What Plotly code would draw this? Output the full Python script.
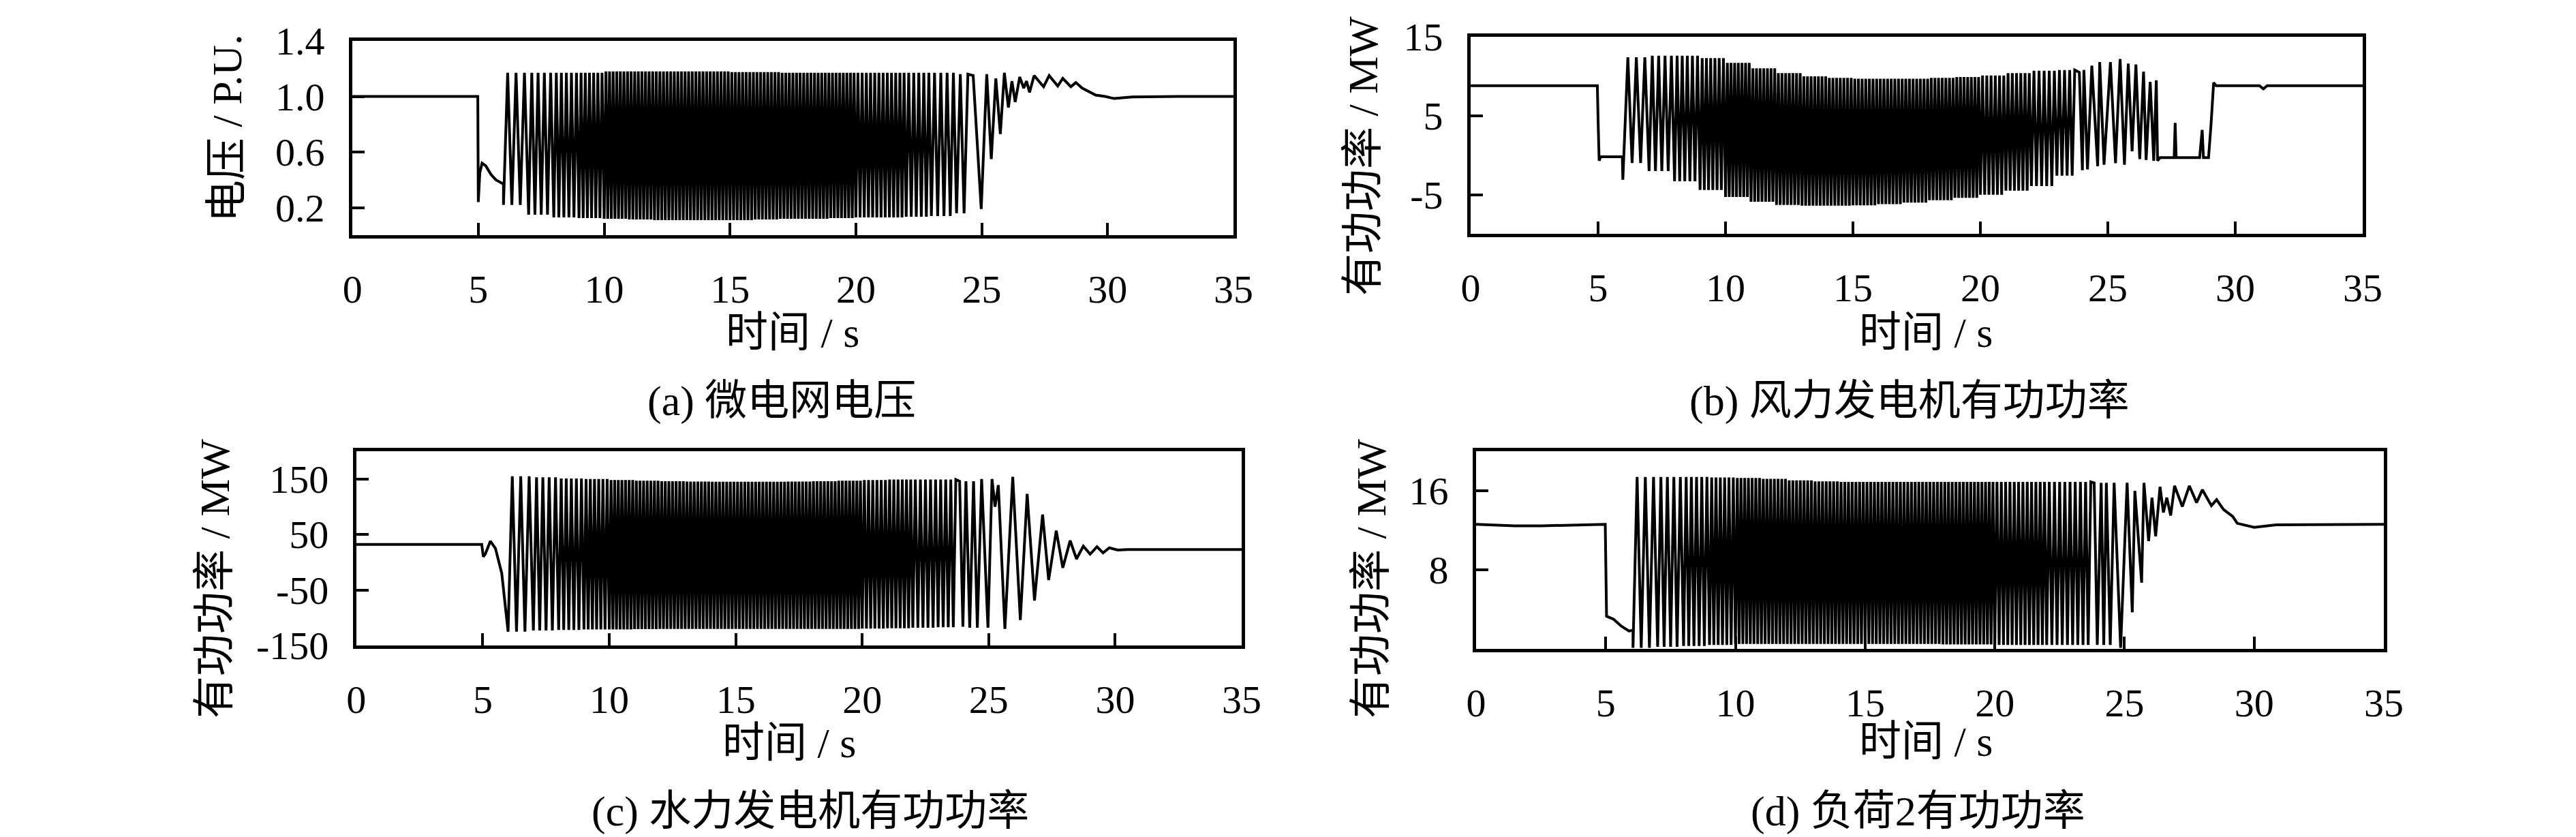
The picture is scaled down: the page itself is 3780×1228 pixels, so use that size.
import plotly.graph_objects as go

# time axis (s)
x_ticks = [0, 5, 10, 15, 20, 25, 30, 35]

# cycles per one-second block during the sustained oscillation (6 s .. 24 s)
osc_cycles = [3, 4, 5, 6, 7, 7, 7, 7, 7, 7, 7, 7, 7, 7, 6, 6, 5, 4]

# (a) 微电网电压, P.U.
a_pre_t = [0, 4.98, 5.0, 5.06, 5.15, 5.3, 5.5, 5.7, 5.9, 6.0]
a_pre_v = [1.0, 1.0, 0.24, 0.45, 0.52, 0.5, 0.44, 0.4, 0.38, 0.37]
a_edges = [6, 7, 8, 9, 10, 11, 12, 13, 14, 15, 16, 17, 18, 19, 20, 21, 22, 23, 24, 24.6]
a_cycles = osc_cycles + [2]
a_hi = [1.17, 1.17, 1.17, 1.17, 1.18, 1.18, 1.18, 1.18, 1.18, 1.175, 1.175, 1.17, 1.17,
        1.17, 1.17, 1.17, 1.17, 1.17, 1.16]
a_lo = [0.22, 0.15, 0.13, 0.125, 0.12, 0.115, 0.11, 0.11, 0.11, 0.11, 0.115, 0.12, 0.12,
        0.125, 0.13, 0.13, 0.135, 0.14, 0.16]
a_post_t = [24.66, 24.98, 25.2, 25.38, 25.56, 25.74, 25.9, 26.06, 26.2, 26.33, 26.51, 26.67,
            26.78, 26.9, 27.08, 27.46, 27.68, 28.02, 28.22, 28.54, 28.74, 28.99, 29.53,
            29.9, 30.26, 30.98, 32.8, 35]
a_post_v = [1.15, 0.19, 1.16, 0.55, 1.13, 0.73, 1.17, 0.92, 1.11, 0.96, 1.14, 1.06,
            1.11, 1.03, 1.15, 1.07, 1.15, 1.075, 1.13, 1.07, 1.10, 1.06, 1.01,
            1.0, 0.985, 0.997, 1.0, 1.0]

# (b) 风力发电机有功功率, MW
b_pre_t = [0, 4.97, 5.0, 5.04, 5.1, 5.95, 5.97]
b_pre_v = [8.8, 8.8, 4.3, -0.7, -0.2, -0.2, -3.1]
b_edges = [6, 7, 8, 9, 10, 11, 12, 13, 14, 15, 16, 17, 18, 19, 20, 21, 22, 23, 23.8]
b_cycles = osc_cycles
b_hi = [12.4, 12.6, 12.6, 12.3, 11.7, 11.0, 10.4, 10.0, 9.8, 9.7, 9.7, 9.7, 9.8, 9.9,
        10.1, 10.4, 10.7, 10.8]
b_lo = [-1.0, -2.0, -3.3, -4.4, -5.3, -5.9, -6.3, -6.4, -6.4, -6.35, -6.2, -6.0, -5.7,
        -5.4, -5.0, -4.5, -3.9, -2.6]
b_post_t = [23.88, 24.0, 24.06, 24.2, 24.37, 24.6, 24.68, 24.85, 25.1, 25.3, 25.48, 25.65,
            25.8, 25.95, 26.1, 26.25, 26.4, 26.5, 26.66, 26.8, 26.9, 26.95, 27.05, 27.6,
            27.64, 27.68, 28.6, 28.7, 28.75, 28.95, 29.05, 29.15, 29.25, 30.95, 31.1,
            31.25, 35]
b_post_v = [10.5, -1.9, 10.8, -1.8, 11.35, -1.4, 11.8, -1.2, 11.8, -1.0, 12.2, -1.2,
            11.6, 0.5, 11.5, -0.5, 10.6, -0.6, 9.3, -0.7, 9.5, -0.7, -0.3, -0.3,
            4.1, -0.3, -0.3, 3.2, -0.3, -0.3, 4.0, 9.2, 8.8, 8.8, 8.4,
            8.8, 8.8]

# (c) 水力发电机有功功率, MW
c_pre_t = [0, 4.96, 5.02, 5.1, 5.3, 5.5, 5.75, 6.0]
c_pre_v = [32, 32, 10, 15, 38, 25, -20, -125]
c_edges = [6, 7, 8, 9, 10, 11, 12, 13, 14, 15, 16, 17, 18, 19, 20, 21, 22, 23, 23.8]
c_cycles = osc_cycles
c_hi = [155, 153, 151, 150, 148, 147, 146, 145.5, 145, 145, 145, 145.5, 146, 147, 148,
        149, 149, 149]
c_lo = [-125, -123, -122, -121, -121, -120.5, -120, -120, -120, -120, -120, -120, -120,
        -120, -119.5, -119, -118, -117]
c_post_t = [23.85, 23.98, 24.1, 24.25, 24.4, 24.55, 24.72, 24.97, 25.13, 25.25, 25.38,
            25.64, 25.95, 26.25, 26.52, 26.81, 27.13, 27.37, 27.67, 27.93, 28.22, 28.47,
            28.74, 29.01, 29.28, 29.52, 29.77, 30.1, 30.5, 35]
c_post_v = [146, -116, 146, -118, 146, -118, 150, -118, 150, 100, 139,
            -120, 154, -104, 123, -69, 86, -32, 57, -10, 39, 6,
            29, 14.5, 28, 17, 26, 22, 23, 23]

# (d) 负荷2有功功率, MW
d_pre_t = [0, 1.5, 2.5, 4.98, 5.03, 5.3, 5.6, 5.9, 6.05]
d_pre_v = [12.6, 12.45, 12.45, 12.6, 3.3, 3.0, 2.3, 1.8, 1.9]
d_edges = [6.05, 7, 8, 9, 10, 11, 12, 13, 14, 15, 16, 17, 18, 19, 20, 21, 22, 23, 23.8]
d_cycles = osc_cycles
d_hi = [17.4, 17.4, 17.4, 17.35, 17.3, 17.2, 17.05, 16.95, 16.9, 16.9, 16.9, 16.9, 16.9,
        16.9, 16.9, 16.9, 16.9, 16.9]
d_lo = [0.1, 0.2, 0.3, 0.4, 0.5, 0.5, 0.5, 0.5, 0.5, 0.5, 0.5, 0.5, 0.45, 0.45, 0.4,
        0.4, 0.4, 0.4]
d_post_t = [23.83, 23.95, 24.1, 24.2, 24.3, 24.45, 24.6, 24.85, 25.1, 25.3, 25.4, 25.66,
            25.75, 25.93, 26.06, 26.2, 26.37, 26.5, 26.63, 26.78, 26.93, 27.23, 27.5,
            27.78, 28.0, 28.35, 28.55, 28.82, 29.17, 29.35, 29.7, 30.0, 30.5, 30.85, 35]
d_post_v = [16.8, 0.4, 16.8, 0.4, 16.8, 0.4, 16.8, 0.1, 16.8, 3.7, 16.0, 6.7,
            16.8, 10.9, 15.3, 11.4, 16.4, 13.8, 15.3, 13.5, 16.5, 14.4, 16.5,
            14.8, 16.1, 14.5, 15.1, 14.1, 13.4, 12.7, 12.5, 12.3, 12.45, 12.55, 12.6]


def zigzag(edges, cycles, hi, lo):
    # one trough + one peak per cycle inside each block
    t, v = [], []
    for k in range(len(cycles)):
        step = (edges[k + 1] - edges[k]) / cycles[k]
        for c in range(cycles[k]):
            t += [edges[k] + c * step, edges[k] + (c + 0.5) * step]
            v += [lo[k], hi[k]]
    return t, v


SERIF = "Liberation Serif, Noto Sans CJK SC"
panels = [
    # pre, blocks, post, y range, y ticks, x domain, y domain
    (a_pre_t, a_pre_v, a_edges, a_cycles, a_hi, a_lo, a_post_t, a_post_v,
     [0, 1.4], [0.2, 0.6, 1.0, 1.4], ["0.2", "0.6", "1.0", "1.4"], [0.1347, 0.4767], [0.7252, 0.9577]),
    (b_pre_t, b_pre_v, b_edges, b_cycles, b_hi, b_lo, b_post_t, b_post_v,
     [-10, 15], [-5, 5, 15], ["-5", "5", "15"], [0.5688, 0.9151], [0.7268, 0.9625]),
    (c_pre_t, c_pre_v, c_edges, c_cycles, c_hi, c_lo, c_post_t, c_post_v,
     [-150, 200], [-150, -50, 50, 150], ["-150", "-50", "50", "150"], [0.1362, 0.4799], [0.2353, 0.4674]),
    (d_pre_t, d_pre_v, d_edges, d_cycles, d_hi, d_lo, d_post_t, d_post_v,
     [0, 20], [8, 16], ["8", "16"], [0.5709, 0.9233], [0.2313, 0.4674]),
]

fig = go.Figure()
layout = {}
for i, p in enumerate(panels):
    pre_t, pre_v, edges, cyc, hi, lo, post_t, post_v, yr, yt, ytt, xd, yd = p
    zt, zv = zigzag(edges, cyc, hi, lo)
    n = "" if i == 0 else str(i + 1)
    fig.add_trace(go.Scatter(x=pre_t + zt + post_t, y=pre_v + zv + post_v, mode="lines",
                             line=dict(color="black", width=4),
                             xaxis="x" + n, yaxis="y" + n, showlegend=False))
    common = dict(showline=True, mirror=True, linewidth=5, linecolor="black",
                  ticks="inside", ticklen=18, tickwidth=4, tickcolor="black",
                  showgrid=False, zeroline=False, ticklabelstandoff=24, automargin=False,
                  tickfont=dict(family=SERIF, size=58, color="black"))
    layout["xaxis" + n] = dict(common, domain=xd, range=[0, 35], tickvals=x_ticks,
                               anchor="y" + n)
    layout["yaxis" + n] = dict(common, domain=yd, range=yr, tickvals=yt, ticktext=ytt,
                               anchor="x" + n)

# axis titles and captions
ann_font = dict(family=SERIF, size=62, color="black")
texts = [
    ("电压 / P.U.", 325, 180, -90),
    ("有功功率 / MW", 1992, 221, -90),
    ("有功功率 / MW", 307, 841, -90),
    ("有功功率 / MW", 2004, 841, -90),
    ("时间 / s", 1155, 480, 0),
    ("时间 / s", 2818, 480, 0),
    ("时间 / s", 1150, 1082, 0),
    ("时间 / s", 2818, 1080, 0),
    ("(a) 微电网电压", 1139, 580, 0),
    ("(b) 风力发电机有功功率", 2794, 580, 0),
    ("(c) 水力发电机有功功率", 1181, 1182, 0),
    ("(d) 负荷2有功功率", 2806, 1182, 0),
]
annotations = []
for txt, px, py, ang in texts:
    annotations.append(dict(text=txt, x=px / 3780, y=1 - py / 1228, xref="paper", yref="paper",
                            xanchor="center", yanchor="middle", showarrow=False,
                            textangle=ang, font=ann_font))

fig.update_layout(width=3780, height=1228, margin=dict(l=0, r=0, t=0, b=0),
                  paper_bgcolor="white", plot_bgcolor="white",
                  annotations=annotations, **layout)

fig.write_html("out.html")
